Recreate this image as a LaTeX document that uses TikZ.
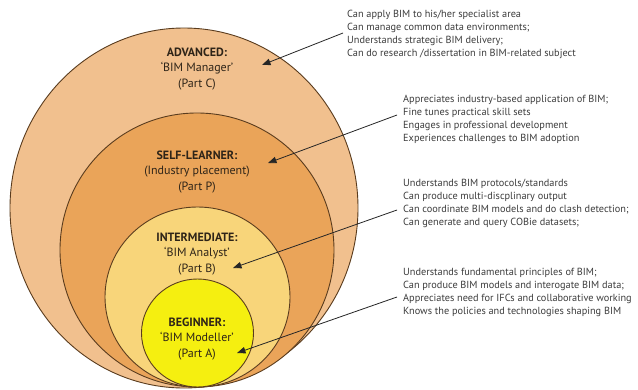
\documentclass[tikz,border=0pt]{standalone}
\usepackage{fontspec}
\setmainfont{PT Sans}
\usetikzlibrary{arrows.meta,shapes.geometric}
\definecolor{advc}{HTML}{F1C08E}
\definecolor{selfc}{HTML}{EAA459}
\definecolor{intc}{HTML}{F8D57A}
\definecolor{begc}{HTML}{F5EF10}
\definecolor{edgec}{HTML}{5A3C1E}
\definecolor{txtc}{HTML}{3C3C3C}
\definecolor{lblc}{HTML}{2E2418}
\begin{document}
\begin{tikzpicture}[x=1pt,y=-1pt,
  ring/.style={draw=edgec, line width=0.9pt, ellipse, inner sep=0pt},
  lbl/.style={font=\fontsize{12}{15.5}\selectfont, align=center, anchor=north, inner sep=0pt, text=lblc},
  desc/.style={font=\fontsize{10.3}{13}\selectfont, align=left, anchor=north west, inner sep=0pt, text=txtc},
  arr/.style={draw=black!85, line width=0.8pt, -{Triangle[length=8.5pt,width=6.5pt]}}]
\path[use as bounding box] (0,0) rectangle (638,389);
\fill[white] (0,0) rectangle (638,389);
% rings
\node[ring, fill=advc, minimum width=348pt, minimum height=360pt] (adv) at (184,208) {};
\node[ring, fill=selfc, minimum width=274pt, minimum height=274pt] (self) at (197,250) {};
\node[ring, fill=intc, minimum width=185pt, minimum height=180pt] (int) at (197.5,297) {};
\node[ring, fill=begc, minimum width=112pt, minimum height=108pt] (beg) at (197.5,333) {};
% labels
\node[lbl] (advl) at (197,47.5) {\textbf{ADVANCED:}\\‘BIM Manager’\\(Part C)};
\node[lbl] (selfl) at (197,150.5) {\textbf{SELF-LEARNER:}\\(Industry placement)\\(Part P)};
\node[lbl] (intl) at (197,232.5) {\textbf{INTERMEDIATE:}\\‘BIM Analyst’\\(Part B)};
\node[lbl] (begl) at (197,317.5) {\textbf{BEGINNER:}\\‘BIM Modeller’\\(Part A)};
% descriptions
\node[desc] (d1) at (347,10) {Can apply BIM to his/her specialist area\\Can manage common data environments;\\Understands strategic BIM delivery;\\Can do research /dissertation in BIM-related subject};
\node[desc] (d2) at (403,95) {Appreciates industry-based application of BIM;\\Fine tunes practical skill sets\\Engages in professional development\\Experiences challenges to BIM adoption};
\node[desc] (d3) at (403,179) {Understands BIM protocols/standards\\Can produce multi-discplinary output\\Can coordinate BIM models and do clash detection;\\Can generate and query COBie datasets;};
\node[desc] (d4) at (403,268) {Understands fundamental principles of BIM;\\Can produce BIM models and interogate BIM data;\\Appreciates need for IFCs and collaborative working\\Knows the policies and technologies shaping BIM};
% arrow ends
\coordinate (t1) at (343,33);  \coordinate (h1) at (262,65);
\coordinate (t2) at (397,115); \coordinate (h2) at (268,163);
\coordinate (t3) at (397,210); \coordinate (h3) at (233,268);
\coordinate (t4) at (397,297); \coordinate (h4) at (237,353);
\draw[arr] (t1) -- (h1);
\draw[arr] (t2) -- (h2);
\draw[arr] (t3) -- (h3);
\draw[arr] (t4) -- (h4);
\end{tikzpicture}
\end{document}
